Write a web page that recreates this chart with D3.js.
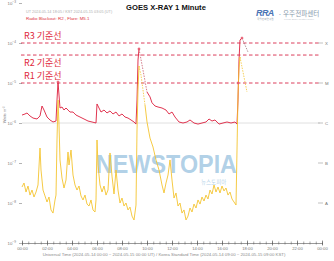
<!DOCTYPE html>
<html>
<head>
<meta charset="utf-8">
<script src="https://cdn.jsdelivr.net/npm/d3@7"></script>
<style>
  body { margin: 0; background: #fff; }
  svg { display: block; font-family: "Liberation Sans", Arial, sans-serif; }
</style>
</head>
<body>
<div id="chart"></div>
<script>
// ---------- data (hours since 00:00 UT, W/m^2)
const longTimes = [0.00,0.24,0.40,0.64,0.88,1.20,1.44,1.60,1.76,2.00,2.24,2.48,2.72,2.80,2.88,2.96,3.04,3.20,3.36,3.52,3.68,3.84,4.08,4.32,4.64,4.96,5.28,5.60,5.92,6.00,6.16,6.32,6.56,6.80,7.04,7.28,7.52,7.76,8.00,8.24,8.48,8.72,8.96,9.12,9.20,9.28,9.36]
const longFlux  = [1.58e-6,1.68e-6,1.78e-6,1.50e-6,1.33e-6,1.26e-6,1.50e-6,2.66e-6,2.11e-6,1.41e-6,1.19e-6,1.06e-6,1.12e-6,3.76e-6,1.06e-5,5.0e-6,2.37e-6,2.51e-6,2.11e-6,2.37e-6,2.11e-6,1.88e-6,1.88e-6,1.58e-6,1.41e-6,1.26e-6,1.12e-6,1.06e-6,1.0e-6,2.99e-6,2.37e-6,1.88e-6,2.11e-6,1.78e-6,2.0e-6,1.68e-6,1.88e-6,1.50e-6,1.68e-6,1.41e-6,1.33e-6,1.19e-6,1.06e-6,9.4e-7,3.76e-6,3.76e-5,7.1e-5]
const longTimes2 = [10.0,10.24,10.40,10.64,10.88,11.20,11.52,11.76,12.0,12.24,12.56,12.88,13.2,13.44,13.76,14.08,14.40,14.72,14.96,15.2,15.44,15.76,16.08,16.40,16.72,17.04,17.2,17.28,17.36,17.44,17.6]
const longFlux2  = [5.96e-6,4.5e-6,3.2e-6,2.66e-6,2.51e-6,2.37e-6,2.11e-6,1.68e-6,1.88e-6,1.41e-6,1.06e-6,1.0e-6,1.06e-6,1.19e-6,1.0e-6,9.4e-7,1.0e-6,1.06e-6,1.26e-6,1.12e-6,1.19e-6,9.4e-7,1.0e-6,1.06e-6,1.0e-6,1.06e-6,9.4e-7,3.76e-6,3.76e-5,1.19e-4,1.33e-4]

const shortTimes = [0.00,0.16,0.32,0.48,0.64,0.80,0.96,1.12,1.28,1.44,1.52,1.68,1.84,2.00,2.16,2.32,2.48,2.64,2.72,2.80,2.88,2.96,3.04,3.20,3.36,3.52,3.68,3.76,3.92,4.08,4.24,4.40,4.56,4.72,4.88,5.04,5.20,5.36,5.52,5.68,5.84,5.92,6.00,6.08,6.24,6.40,6.56,6.72,6.88,7.04,7.20,7.36,7.52,7.68,7.84,8.00,8.16,8.32,8.48,8.64,8.80,8.96,9.12,9.20,9.28,9.36]
const shortFlux  = [2.51e-8,3.16e-8,1.88e-8,2.66e-8,1.58e-8,2.11e-8,1.41e-8,1.88e-8,2.82e-8,2.37e-7,6.68e-8,2.11e-8,1.5e-8,1.06e-8,1.41e-8,6.7e-9,5.6e-9,1.19e-8,1.58e-8,3.76e-7,3.76e-6,8.9e-7,1.19e-7,4.2e-8,2.37e-8,3.76e-8,1.88e-7,8.9e-8,2.11e-7,5.0e-8,2.82e-8,2.11e-8,2.66e-8,1.5e-8,1.19e-8,1.58e-8,9.4e-9,8.4e-9,1.19e-8,6.7e-9,5.96e-9,1.19e-8,3.76e-7,8.9e-8,2.82e-8,1.88e-8,2.66e-8,1.58e-8,2.11e-8,1.78e-7,4.7e-8,1.68e-8,6.68e-8,2.11e-8,1.0e-8,1.33e-8,8.4e-9,1.0e-8,6.7e-9,7.9e-9,4.7e-9,3.76e-9,8.9e-9,6.7e-7,6.7e-6,2.66e-5]
const shortTimes2 = [9.84,10.0,10.24,10.48,10.72,10.96,11.2,11.36,11.52,11.68,11.84,12.0,12.16,12.32,12.48,12.64,12.8,12.96,13.12,13.28,13.44,13.6,13.76,13.92,14.08,14.24,14.40,14.56,14.72,14.88,15.04,15.2,15.36,15.52,15.68,15.84,16.0,16.16,16.32,16.48,16.64,16.8,16.96,17.12,17.2,17.28,17.36,17.44]
const shortFlux2  = [2.82e-6,1.06e-6,4.2e-7,2.51e-7,1.19e-7,6.68e-8,2.82e-8,1.78e-8,3.16e-8,5.0e-8,1.19e-7,3.76e-8,1.33e-8,1.78e-8,8.4e-9,1.0e-8,5.6e-9,6.7e-9,3.76e-9,4.7e-9,7.5e-9,5.96e-9,9.4e-9,7.5e-9,1.19e-8,9.4e-9,1.41e-8,1.12e-8,1.58e-8,1.26e-8,2.11e-8,1.68e-8,2.82e-8,1.88e-8,2.51e-8,1.78e-8,2.66e-8,2.0e-8,2.37e-8,1.58e-8,1.88e-8,1.26e-8,1.06e-8,8.9e-9,2.11e-7,5.0e-6,2.37e-5,4.47e-5]

// decay segments drawn dashed (latest / provisional points)
const longDecayA  = [[9.36,7.1e-5],[9.68,2.11e-5],[10.0,5.96e-6]]
const longDecayB  = [[17.6,1.33e-4],[18.08,5.96e-5]]
const shortDecayA = [[9.36,2.66e-5],[9.52,1.58e-5],[9.68,6.7e-6],[9.84,2.82e-6]]
const shortDecayB = [[17.44,4.47e-5],[18.0,5.96e-6]]

const thresholds = [
  {name: "R3 기준선", flux: 1e-4, textFlux: 1.25e-4},
  {name: "R2 기준선", flux: 5e-5, textFlux: 2.7e-5},
  {name: "R1 기준선", flux: 1e-5, textFlux: 1.25e-5}
]
const classes = ["X", "M", "C", "B", "A"]
const classFlux = [1e-4, 1e-5, 1e-6, 1e-7, 1e-8]
const decades = [1e-9, 1e-8, 1e-7, 1e-6, 1e-5, 1e-4, 1e-3]
const hourLabels = ["00:00","02:00","04:00","06:00","08:00","10:00","12:00","14:00","16:00","18:00","20:00","22:00","00:00"]

// ---------- layout
const width = 334, height = 261
const margin = {top: 3, right: 12, bottom: 18, left: 22}

const svg = d3.select("#chart").append("svg")
  .attr("width", width).attr("height", height)

svg.append("rect").attr("width", width).attr("height", height).attr("fill", "#fff")

const x = d3.scaleLinear().domain([0, 24]).range([margin.left, width - margin.right])
const y = d3.scaleLog().domain([1e-9, 1e-3]).range([height - margin.bottom, margin.top])

// ---------- header
svg.append("text")
  .attr("x", 166).attr("y", 10)
  .attr("text-anchor", "middle")
  .attr("font-size", 7.6).attr("font-weight", "bold").attr("fill", "#111")
  .text("GOES X-RAY 1 Minute")

svg.append("text")
  .attr("x", 26).attr("y", 13)
  .attr("font-size", 3.8).attr("fill", "#b0b0b0")
  .text("UT 2024-05-14 18:05 / KST 2024-05-15 03:05 (UT)")

svg.append("text")
  .attr("x", 26).attr("y", 19.5)
  .attr("font-size", 4.4).attr("fill", "#e0303a")
  .text("Radio Blackout: R2 , Flare: M5.1")

// logo
const logo = svg.append("g")
logo.append("text")
  .attr("x", 256).attr("y", 16)
  .attr("font-size", 9).attr("font-weight", "bold").attr("font-style", "italic")
  .attr("fill", "#4a74b4").attr("letter-spacing", -0.6)
  .text("RRA")
logo.append("text")
  .attr("x", 279).attr("y", 16)
  .attr("font-size", 5).attr("fill", "#4a74b4")
  .text("-")
logo.append("text")
  .attr("x", 283).attr("y", 16)
  .attr("font-family", "Noto Sans CJK KR").attr("font-size", 6.6).attr("fill", "#8a9aab")
  .text("우주전파센터")
logo.append("text")
  .attr("x", 257).attr("y", 20)
  .attr("font-family", "Noto Sans CJK KR").attr("font-size", 2.6).attr("fill", "#9aa5b0")
  .text("국립전파연구원")
logo.append("text")
  .attr("x", 284).attr("y", 20)
  .attr("font-size", 2.2).attr("fill", "#b8c0c8")
  .text("Korean Space Weather Center")

// ---------- gridline at C level
svg.append("line")
  .attr("x1", x(0)).attr("x2", x(24) - 2)
  .attr("y1", y(1e-6)).attr("y2", y(1e-6))
  .attr("stroke", "#d8d8d8").attr("stroke-width", 0.8)

// ---------- watermark
svg.append("text")
  .attr("x", 96).attr("y", 173)
  .attr("font-size", 25).attr("font-weight", "bold")
  .attr("fill", "#8fbddd").attr("fill-opacity", 0.7)
  .attr("textLength", 141).attr("lengthAdjust", "spacingAndGlyphs")
  .text("NEWSTOPIA")
svg.append("text")
  .attr("x", 201).attr("y", 184)
  .attr("font-family", "Noto Sans CJK KR").attr("font-size", 5.5)
  .attr("fill", "#8fbddd").attr("fill-opacity", 0.7)
  .text("뉴스토피아")

// ---------- threshold lines
const thrG = svg.append("g")
thrG.selectAll("line")
  .data(thresholds)
  .join("line")
  .attr("x1", x(0) - 1).attr("x2", x(24) - 2)
  .attr("y1", d => y(d.flux)).attr("y2", d => y(d.flux))
  .attr("stroke", "#d8284a").attr("stroke-width", 0.9)
  .attr("stroke-dasharray", "3.5,2.5")

thrG.selectAll("text")
  .data(thresholds)
  .join("text")
  .attr("x", 24).attr("y", d => y(d.textFlux))
  .attr("font-family", "Noto Sans CJK KR").attr("font-size", 9)
  .attr("fill", "#e0283c")
  .text(d => d.name)

// ---------- axes
const minorTicks = d3.range(0, 24.01, 0.5)
svg.append("g")
  .attr("transform", `translate(0,${y(1e-9)})`)
  .call(d3.axisBottom(x).tickValues(minorTicks).tickSize(1.5).tickFormat(""))
  .call(g => g.select(".domain").attr("stroke", "#555").attr("stroke-width", 0.6))
  .call(g => g.selectAll(".tick line").attr("stroke", "#555").attr("stroke-width", 0.5).attr("y1", -1.5))

svg.append("g")
  .attr("transform", `translate(0,${y(1e-9)})`)
  .call(d3.axisBottom(x).tickValues(d3.range(0, 24.01, 2)).tickSize(2.5).tickFormat((d, i) => hourLabels[i]))
  .call(g => g.select(".domain").remove())
  .call(g => g.selectAll(".tick line").attr("stroke", "#555").attr("stroke-width", 0.6).attr("y1", -2.5))
  .call(g => g.selectAll(".tick text").attr("font-size", 4.2).attr("fill", "#777").attr("dy", "0.3em"))

svg.append("text")
  .attr("x", 164).attr("y", 256)
  .attr("text-anchor", "middle")
  .attr("font-size", 4.3).attr("fill", "#8a8a8a")
  .text("Universal Time (2024-05-14 00:00 ~ 2024-05-15 00:00 UT) / Korea Standard Time (2024-05-14 09:00 ~ 2024-05-15 09:00 KST)")

const yAxis = svg.append("g")
  .attr("transform", `translate(${x(0)},0)`)
  .call(d3.axisLeft(y).tickValues(decades).tickSize(3).tickFormat(""))
  .call(g => g.select(".domain").remove())
  .call(g => g.selectAll(".tick line").attr("stroke", "#666").attr("stroke-width", 0.5))

const yLab = svg.append("g").selectAll("text")
  .data(decades)
  .join("text")
  .attr("x", 16).attr("y", d => y(d) + 1.5)
  .attr("text-anchor", "end")
  .attr("font-size", 4.3).attr("fill", "#777")
yLab.append("tspan").text("10")
yLab.append("tspan").attr("dy", -1.5).attr("font-size", 3.2).text(d => String(Math.round(Math.log10(d))).replace("-", "−"))

svg.append("text")
  .attr("transform", `translate(6,${y(1.6e-6)}) rotate(-90)`)
  .attr("text-anchor", "middle")
  .attr("font-size", 4).attr("fill", "#888")
  .text("Watts m⁻²")

// right class labels
const clsG = svg.append("g").selectAll("g")
  .data(classes)
  .join("g")
  .attr("transform", (d, i) => `translate(${x(24)},${y(classFlux[i])})`)
clsG.append("line").attr("x1", -4).attr("x2", 1).attr("stroke", "#999").attr("stroke-width", 0.6)
clsG.append("text").attr("x", 3).attr("y", 1.5).attr("font-size", 4.3).attr("fill", "#777").text(d => d)

// ---------- series
const line = d3.line().x(d => x(d[0])).y(d => y(d[1]))
const zip = (a, b) => a.map((t, i) => [t, b[i]])

const longColor = "#dc1e3c"
const shortColor = "#f4c430"

const series = svg.append("g").attr("fill", "none")
series.append("path").attr("d", line(zip(longTimes, longFlux))).attr("stroke", longColor).attr("stroke-width", 0.9)
series.append("path").attr("d", line(zip(longTimes2, longFlux2))).attr("stroke", longColor).attr("stroke-width", 0.9)
series.append("path").attr("d", line(zip(shortTimes, shortFlux))).attr("stroke", shortColor).attr("stroke-width", 0.9)
series.append("path").attr("d", line(zip(shortTimes2, shortFlux2))).attr("stroke", shortColor).attr("stroke-width", 0.9)

series.append("path").attr("d", line(longDecayA)).attr("stroke", "#c85a6a").attr("stroke-width", 0.8).attr("stroke-dasharray", "1.5,1.2")
series.append("path").attr("d", line(longDecayB)).attr("stroke", "#a07880").attr("stroke-width", 0.8).attr("stroke-dasharray", "1.5,1.2")
series.append("path").attr("d", line(shortDecayA)).attr("stroke", shortColor).attr("stroke-width", 0.8).attr("stroke-dasharray", "1.5,1.2")
series.append("path").attr("d", line(shortDecayB)).attr("stroke", shortColor).attr("stroke-width", 0.8).attr("stroke-dasharray", "1.5,1.2")

// peak markers
const peaks = [[2.88, 1.06e-5], [9.36, 7.1e-5], [17.6, 1.33e-4], [17.28, 1.0e-5]]
series.selectAll("circle")
  .data(peaks)
  .join("circle")
  .attr("cx", d => x(d[0])).attr("cy", d => y(d[1]))
  .attr("r", 1.1).attr("fill", "#f08090").attr("stroke", longColor).attr("stroke-width", 0.4)
</script>
</body>
</html>
